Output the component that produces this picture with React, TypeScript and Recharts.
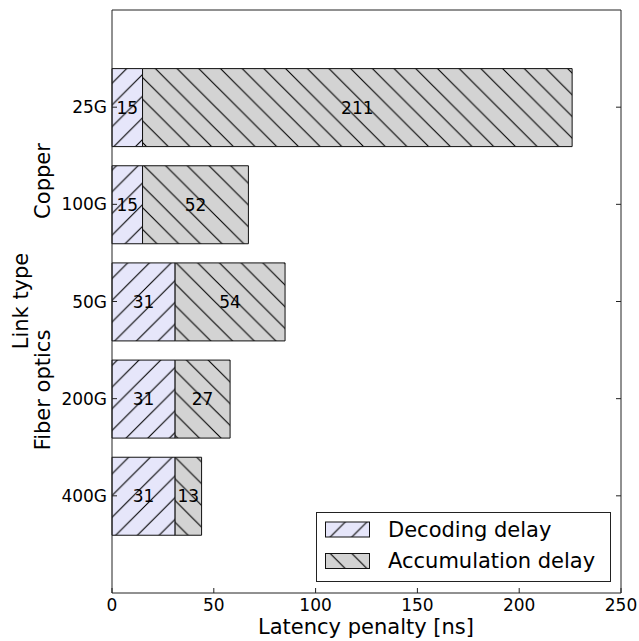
import { BarChart, Bar, XAxis, YAxis, Legend, LabelList } from "recharts";

if (typeof document !== "undefined") document.body.style.margin = "0";

const FONT = "DejaVu Sans";
const FRAME = "#222";
const EDGE = "#111";
const DECODE_FILL = "#e6e6fa";
const ACCUM_FILL = "#d3d3d3";
const HATCH = 21.7;

// plot frame (follows from the chart margins / axis sizes below)
const W = 639;
const H = 641;
const PLOT_LEFT = 112;
const PLOT_RIGHT = 621;
const PLOT_TOP = 10;
const PLOT_BOTTOM = 593;
const TICK = 5;

const links = ["25G", "100G", "50G", "200G", "400G"];
const decoding = [15, 15, 31, 31, 31];
const accumulation = [211, 52, 54, 27, 13];
const xTicks = [0, 50, 100, 150, 200, 250];
const seriesOrder = ["decoding", "accumulation"];

const data = links.map((link, i) => ({
  link,
  decoding: decoding[i],
  accumulation: accumulation[i],
}));

const fwdPath = (s: number) =>
  `M0,${s} l${s},${-s} M${-s / 4},${s / 4} l${s / 2},${-s / 2} M${(3 * s) / 4},${(5 * s) / 4} l${s / 2},${-s / 2}`;
const backPath = (s: number) =>
  `M0,0 l${s},${s} M${-s / 4},${(3 * s) / 4} l${s / 2},${s / 2} M${(3 * s) / 4},${-s / 4} l${s / 2},${s / 2}`;

function Hatches({ prefix }: { prefix: string }) {
  return (
    <defs>
      <pattern id={`${prefix}-decoding`} patternUnits="userSpaceOnUse" width={HATCH} height={HATCH}>
        <rect width={HATCH} height={HATCH} fill={DECODE_FILL} />
        <path d={fwdPath(HATCH)} stroke="#000" strokeWidth={1.1} />
      </pattern>
      <pattern id={`${prefix}-accumulation`} patternUnits="userSpaceOnUse" width={HATCH} height={HATCH}>
        <rect width={HATCH} height={HATCH} fill={ACCUM_FILL} />
        <path d={backPath(HATCH)} stroke="#000" strokeWidth={1.1} />
      </pattern>
    </defs>
  );
}

function BottomTick(props: any) {
  const { x, payload } = props;
  return (
    <g>
      <line x1={x} x2={x} y1={PLOT_BOTTOM} y2={PLOT_BOTTOM - TICK} stroke={FRAME} />
      <text x={x} y={PLOT_BOTTOM + 18} textAnchor="middle" fontSize={17} fontFamily={FONT} fill="#000">
        {payload.value}
      </text>
    </g>
  );
}

function TopTick(props: any) {
  const { x } = props;
  return <line x1={x} x2={x} y1={PLOT_TOP} y2={PLOT_TOP + TICK} stroke={FRAME} />;
}

function LeftTick(props: any) {
  const { y, payload } = props;
  return (
    <g>
      <line x1={PLOT_LEFT} x2={PLOT_LEFT + TICK} y1={y} y2={y} stroke={FRAME} />
      <text x={PLOT_LEFT - 5} y={y} dy={6} textAnchor="end" fontSize={17} fontFamily={FONT} fill="#000">
        {payload.value}
      </text>
    </g>
  );
}

function RightTick(props: any) {
  const { y } = props;
  return <line x1={PLOT_RIGHT} x2={PLOT_RIGHT - TICK} y1={y} y2={y} stroke={FRAME} />;
}

function LegendBox(props: any) {
  const items = [...(props.payload || [])].sort(
    (a: any, b: any) => seriesOrder.indexOf(a.dataKey) - seriesOrder.indexOf(b.dataKey)
  );
  return (
    <svg width={295} height={70} style={{ display: "block" }}>
      <Hatches prefix="lg" />
      <rect x={0.5} y={0.5} width={294} height={69} fill="#fff" stroke={FRAME} />
      {items.map((it: any, i: number) => (
        <g key={it.value} transform={`translate(0, ${17.5 + i * 31.5})`}>
          <rect x={9.5} y={-7.5} width={44} height={15} fill={`url(#lg-${it.dataKey})`} stroke={EDGE} />
          <text x={72} y={7} fontSize={21} fontFamily={FONT} fill="#000">
            {it.value}
          </text>
        </g>
      ))}
    </svg>
  );
}

export default function App() {
  const labelStyle = { fill: "#000", fontSize: 17, fontFamily: FONT };
  return (
    <div style={{ position: "relative", width: W, height: H, fontFamily: FONT, background: "#fff" }}>
      <BarChart
        width={W}
        height={H}
        data={data}
        layout="vertical"
        margin={{ top: PLOT_TOP - 1, right: W - PLOT_RIGHT - 1, bottom: 0, left: 0 }}
      >
        <Hatches prefix="bar" />
        <XAxis
          xAxisId="bottom"
          type="number"
          domain={[0, 250]}
          ticks={xTicks}
          height={H - PLOT_BOTTOM}
          axisLine={{ stroke: FRAME }}
          tickLine={false}
          tickSize={0}
          tickMargin={0}
          tick={<BottomTick />}
          interval={0}
        />
        <XAxis
          xAxisId="top"
          orientation="top"
          type="number"
          domain={[0, 250]}
          ticks={xTicks}
          height={1}
          axisLine={{ stroke: FRAME }}
          tickLine={false}
          tickSize={0}
          tickMargin={0}
          tick={<TopTick />}
          interval={0}
        />
        <YAxis
          yAxisId="left"
          type="category"
          dataKey="link"
          width={PLOT_LEFT}
          padding={{ top: 48.6, bottom: 48.6 }}
          axisLine={{ stroke: FRAME }}
          tickLine={false}
          tickSize={0}
          tickMargin={0}
          tick={<LeftTick />}
          interval={0}
        />
        <YAxis
          yAxisId="right"
          orientation="right"
          type="category"
          dataKey="link"
          width={1}
          padding={{ top: 48.6, bottom: 48.6 }}
          axisLine={{ stroke: FRAME }}
          tickLine={false}
          tickSize={0}
          tickMargin={0}
          tick={<RightTick />}
          interval={0}
        />
        <Bar
          xAxisId="bottom"
          yAxisId="left"
          dataKey="decoding"
          name="Decoding delay"
          stackId="lat"
          barSize={78}
          fill="url(#bar-decoding)"
          stroke={EDGE}
          strokeWidth={1}
          isAnimationActive={false}
        >
          <LabelList dataKey="decoding" position="center" style={labelStyle} />
        </Bar>
        <Bar
          xAxisId="bottom"
          yAxisId="left"
          dataKey="accumulation"
          name="Accumulation delay"
          stackId="lat"
          barSize={78}
          fill="url(#bar-accumulation)"
          stroke={EDGE}
          strokeWidth={1}
          isAnimationActive={false}
        >
          <LabelList dataKey="accumulation" position="center" style={labelStyle} />
        </Bar>
        <Legend
          layout="vertical"
          align="center"
          verticalAlign="middle"
          content={<LegendBox />}
          wrapperStyle={{ left: 316, top: 512, width: 295, height: 70 }}
        />
      </BarChart>
      <svg
        width={W}
        height={H}
        style={{ position: "absolute", left: 0, top: 0, pointerEvents: "none" }}
      >
        <text x={366} y={634} textAnchor="middle" fontSize={21} fontFamily={FONT} fill="#000">
          Latency penalty [ns]
        </text>
        <text x={28} y={301} transform="rotate(-90 28 301)" textAnchor="middle" fontSize={21} fontFamily={FONT} fill="#000">
          Link type
        </text>
        <text x={50} y={181} transform="rotate(-90 50 181)" textAnchor="middle" fontSize={21} fontFamily={FONT} fill="#000">
          Copper
        </text>
        <text x={50} y={390} transform="rotate(-90 50 390)" textAnchor="middle" fontSize={21} fontFamily={FONT} fill="#000">
          Fiber optics
        </text>
      </svg>
    </div>
  );
}
